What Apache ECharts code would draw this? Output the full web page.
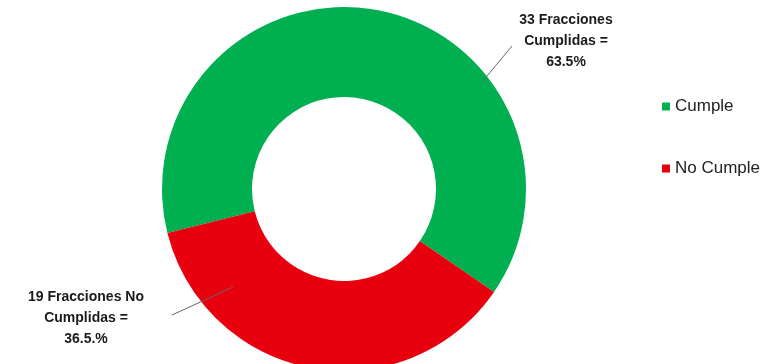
<!DOCTYPE html>
<html>
<head>
<meta charset="utf-8">
<script src="https://cdn.jsdelivr.net/npm/echarts@6/dist/echarts.min.js"></script>
<style>
html, body { margin: 0; padding: 0; background: #fff; }
#chart { width: 764px; height: 364px; }
</style>
</head>
<body>
<div id="chart"></div>
<script>
// datos
const categories = ['Cumple', 'No Cumple']
const values = [33, 19]
const percents = ['63.5%', '36.5.%']
const labelTexts = ['Fracciones\nCumplidas =', 'Fracciones No\nCumplidas =']
const colors = ['#00b050', '#e8000e']

// posiciones de las etiquetas (centro del bloque de texto)
const labelPos = [[566, 41], [86, 318]]

const chart = echarts.init(document.getElementById('chart'))

const option = {
	animation: false,
	color: colors,
	legend: {
		orient: 'vertical',
		left: 657,
		top: 93,
		itemWidth: 8,
		itemHeight: 8,
		itemGap: 45,
		icon: 'rect',
		textStyle: { fontFamily: 'Liberation Sans, Arial', fontSize: 17, color: '#222' },
		data: categories
	},
	series: [
		{
			type: 'pie',
			center: [344, 189],
			radius: [92, 182],
			startAngle: 194,
			clockwise: true,
			data: categories.map((c, i) => ({ name: c, value: values[i] })),
			label: {
				show: true,
				position: 'outside',
				fontFamily: 'Liberation Sans, Arial',
				fontWeight: 'bold',
				fontSize: 14,
				lineHeight: 21,
				color: '#1a1a1a',
				align: 'center',
				formatter: p => `${values[p.dataIndex]} ${labelTexts[p.dataIndex]}\n${percents[p.dataIndex]}`
			},
			labelLine: { show: false },
			labelLayout: p => ({
				x: labelPos[p.dataIndex][0],
				y: labelPos[p.dataIndex][1],
				align: 'center',
				verticalAlign: 'middle'
			})
		}
	],
	graphic: [
		{ type: 'line', z: 100, shape: { x1: 482, y1: 82, x2: 512, y2: 46 }, style: { stroke: '#666', lineWidth: 1 } },
		{ type: 'line', z: 100, shape: { x1: 172, y1: 315, x2: 233, y2: 287 }, style: { stroke: '#666', lineWidth: 1 } }
	]
}
chart.setOption(option)
</script>
</body>
</html>
